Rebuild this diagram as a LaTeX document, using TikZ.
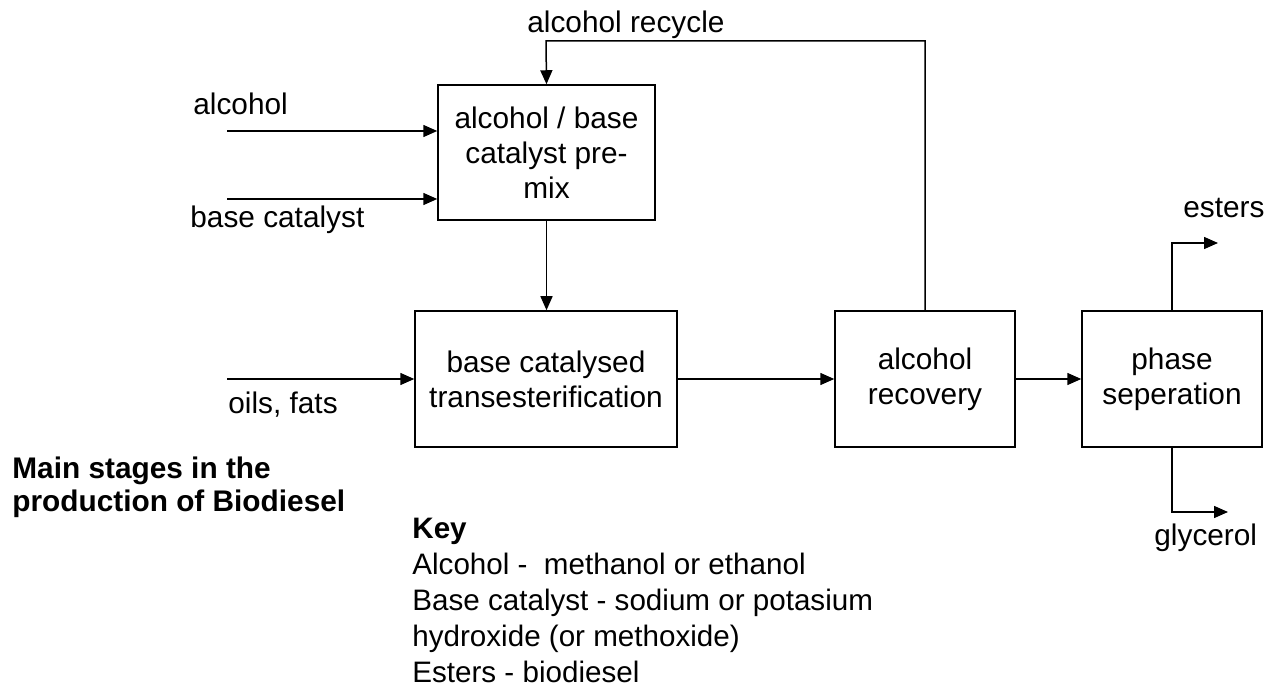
\documentclass[tikz,border=0pt]{standalone}
\usepackage{fontspec}
\setmainfont{Liberation Sans}
\usepackage{tikz}
\usetikzlibrary{arrows.meta, positioning, calc}
\tikzset{
  blk/.style={rectangle, draw, line width=0.75pt, align=center, inner sep=2pt, font=\fontsize{14.9}{17.5}\selectfont},
  premixbox/.style={blk, minimum width=108.5pt, minimum height=67.5pt},
  stagebox/.style={blk, minimum width=90pt, minimum height=68pt},
  lab/.style={font=\fontsize{14.9}{17.5}\selectfont, inner sep=0pt, anchor=west},
  arr/.style={-{Triangle[length=7pt, width=6pt]}, line width=0.75pt},
}

\begin{document}
\begin{tikzpicture}[x=0.5pt, y=-0.5pt]
  \useasboundingbox (0,0) rectangle (1267,688);
  \node[premixbox] (premix) at (546.5,152.5) {alcohol / base\\catalyst pre-\\mix};
  \node[stagebox, minimum width=131pt] (trans) at (546,379) {base catalysed\\transesterification};
  \node[stagebox] (recov) at (925,379) {alcohol\\recovery};
  \node[stagebox] (phase) at (1172,379) {phase\\seperation};
  \coordinate (alcin) at (227,131);
  \coordinate (catin) at (227,199);
  \coordinate (oilin) at (227,379);
  \coordinate (loop) at (546,41);
  \coordinate (estout) at (1218,243);
  \coordinate (glyout) at (1228,512);
  \draw[arr] (alcin) -- (alcin -| premix.west);
  \draw[arr] (catin) -- (catin -| premix.west);
  \draw[arr] (oilin) -- (trans.west);
  \draw[arr] (premix.south) -- (premix.south |- trans.north);
  \draw[arr] (trans.east) -- (recov.west);
  \draw[arr] (recov.east) -- (phase.west);
  \draw[arr] (recov.north) |- (loop) -- (premix.north);
  \draw[arr] (phase.north) |- (estout);
  \draw[arr] (phase.south) |- (glyout);
  \node[lab] (alclab) at (193,104) {alcohol};
  \node[lab] (catlab) at (190,220) {base catalyst};
  \node[lab] (oillab) at (228,405) {oils, fats};
  \node[lab] (recyclab) at (527,25) {alcohol recycle};
  \node[lab] (estlab) at (1183,208) {esters};
  \node[lab] (glylab) at (1154,538) {glycerol};
  \node[lab, align=left, font=\fontsize{14.9}{16.5}\selectfont\bfseries] (stages) at (12,487) {Main stages in the\\production of Biodiesel};
  \node[lab, anchor=north west, align=left, font=\fontsize{14.8}{18}\selectfont] (key) at (412,518)
    {\textbf{Key}\\Alcohol - \ methanol or ethanol\\Base catalyst - sodium or potasium\\hydroxide (or methoxide)\\Esters - biodiesel};
\end{tikzpicture}
\end{document}
